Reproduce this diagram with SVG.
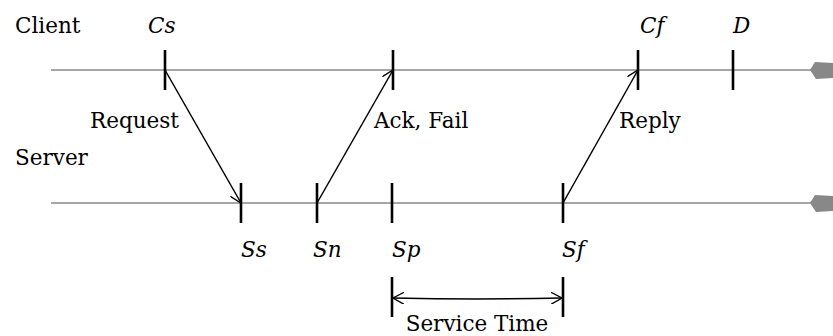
<svg xmlns="http://www.w3.org/2000/svg" width="833" height="336" viewBox="0 0 833 336">
<defs>
<style>
text{font-family:"DejaVu Serif","Liberation Serif",serif;font-size:21.5px;fill:#000}
.it{font-style:italic}
.axis{stroke:#888;stroke-width:1.6;fill:none}
.tick{stroke:#000;stroke-width:2.6}
.msg{stroke:#000;stroke-width:1.5;fill:none;marker-end:url(#open)}
</style>
<marker id="open" viewBox="0 0 12 12" refX="11" refY="6" markerWidth="12" markerHeight="12" markerUnits="userSpaceOnUse" orient="auto-start-reverse">
<path d="M0,0 L11,6 L0,12" fill="none" stroke="#000" stroke-width="1.3"/>
</marker>
</defs>
<rect width="833" height="336" fill="#fff"/>
<g id="client-line">
<line class="axis" x1="51" y1="70" x2="815" y2="70"/>
<path d="M810,70 L815,62 L833,63 L833,78 L816,79 Z" fill="#888"/>
<text x="15" y="33">Client</text>
</g>
<g id="server-line">
<line class="axis" x1="51" y1="203" x2="815" y2="203"/>
<path d="M810,203 L815,195 L833,196 L833,211 L816,212 Z" fill="#888"/>
<text x="15" y="165">Server</text>
</g>
<g id="Cs"><line class="tick" x1="165" y1="50" x2="165" y2="90"/><text class="it" x="148" y="33">Cs</text></g>
<g id="ackpoint"><line class="tick" x1="393" y1="50" x2="393" y2="90"/></g>
<g id="Cf"><line class="tick" x1="638" y1="50" x2="638" y2="90"/><text class="it" x="640" y="33">Cf</text></g>
<g id="D"><line class="tick" x1="733" y1="50" x2="733" y2="90"/><text class="it" x="733" y="33">D</text></g>
<g id="Ss"><line class="tick" x1="241" y1="183" x2="241" y2="223"/><text class="it" x="241" y="257">Ss</text></g>
<g id="Sn"><line class="tick" x1="317" y1="183" x2="317" y2="223"/><text class="it" x="313" y="257">Sn</text></g>
<g id="Sp"><line class="tick" x1="392" y1="183" x2="392" y2="223"/><text class="it" x="392" y="257">Sp</text></g>
<g id="Sf"><line class="tick" x1="563" y1="183" x2="563" y2="223"/><text class="it" x="562" y="257">Sf</text></g>
<g id="connectors">
<line class="msg" x1="165" y1="70" x2="241" y2="203"/>
<line class="msg" x1="317" y1="203" x2="393" y2="70"/>
<line class="msg" x1="563" y1="203" x2="638" y2="70"/>
<line class="tick" x1="392" y1="277" x2="392" y2="317"/>
<line class="tick" x1="563" y1="277" x2="563" y2="317"/>
<path d="M393,298 Q477,300 562,298" class="msg" style="marker-start:url(#open)"/>
</g>
<g id="labels">
<text x="90" y="128">Request</text>
<text x="374" y="128">Ack, Fail</text>
<text x="619" y="128">Reply</text>
<text x="477" y="331" text-anchor="middle">Service Time</text>
</g>
</svg>
